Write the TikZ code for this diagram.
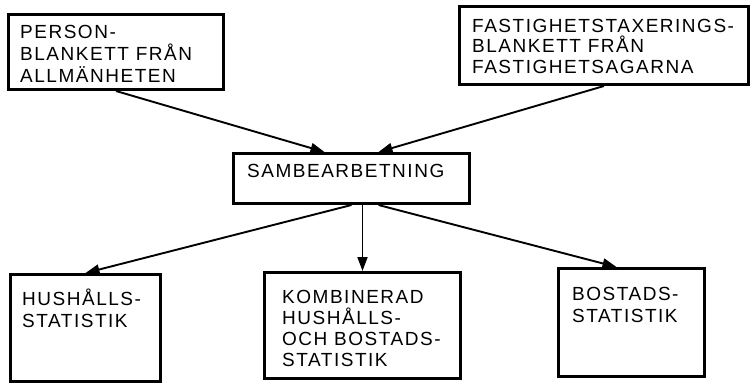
\documentclass[tikz,border=0pt]{standalone}
\usepackage{fontspec}
\setmainfont{Liberation Sans}[LetterSpace=8]
\usetikzlibrary{arrows.meta}
\newcommand\boxlines[1]{\vtop{\halign{##\hfil\cr#1\crcr}}}
\tikzset{
  box/.style={draw, line width=3pt, inner sep=0pt, anchor=north west},
  lbl/.style={anchor=base west, inner sep=0pt, font=\fontsize{19}{22}\selectfont},
  conn/.style={line width=1.9pt, -{Triangle[length=14pt,width=10pt]}},
}
\begin{document}
\begin{tikzpicture}[x=1pt, y=-1pt]
\useasboundingbox (0,0) rectangle (750,383);
% boxes
\node[box, minimum width=215pt, minimum height=75pt]  (pers) at (7,13)  {};
\node[box, minimum width=289pt, minimum height=78pt]  (fast) at (458,5) {};
\node[box, minimum width=236pt, minimum height=50pt]  (sam)  at (232,152) {};
\node[box, minimum width=150pt, minimum height=107pt] (hus)  at (9,273) {};
\node[box, minimum width=196pt, minimum height=106pt] (komb) at (263,271) {};
\node[box, minimum width=146pt, minimum height=108pt] (bost) at (557,267) {};
% texts
\node[lbl] (tpers) at (20,38) {\boxlines{PERSON-\cr BLANKETT FRÅN\cr ALLMÄNHETEN}};
\node[lbl, font=\fontsize{19}{20.5}\selectfont] (tfast) at (472,32) {\boxlines{FASTIGHETSTAXERINGS-\cr BLANKETT FRÅN\cr FASTIGHETSAGARNA}};
\node[lbl] (tsam) at (247,177) {SAMBEARBETNING};
\node[lbl] (thus) at (22,305) {\boxlines{HUSHÅLLS-\cr STATISTIK}};
\node[lbl, font=\fontsize{19}{21.3}\selectfont] (tkomb) at (282,303) {\boxlines{KOMBINERAD\cr HUSHÅLLS-\cr OCH BOSTADS-\cr STATISTIK}};
\node[lbl] (tbost) at (572,300) {\boxlines{BOSTADS-\cr STATISTIK}};
% connectors
\draw[conn] (pers.south) -- ([xshift=-27pt]sam.north);
\draw[conn] (fast.south) -- ([xshift=27pt]sam.north);
\draw[conn] (sam.south) -- (hus.north);
\draw[conn] (komb.north |- sam.south) -- (komb.north);
\draw[conn] ([xshift=27pt]sam.south) -- ([xshift=-15pt]bost.north);
\end{tikzpicture}
\end{document}
